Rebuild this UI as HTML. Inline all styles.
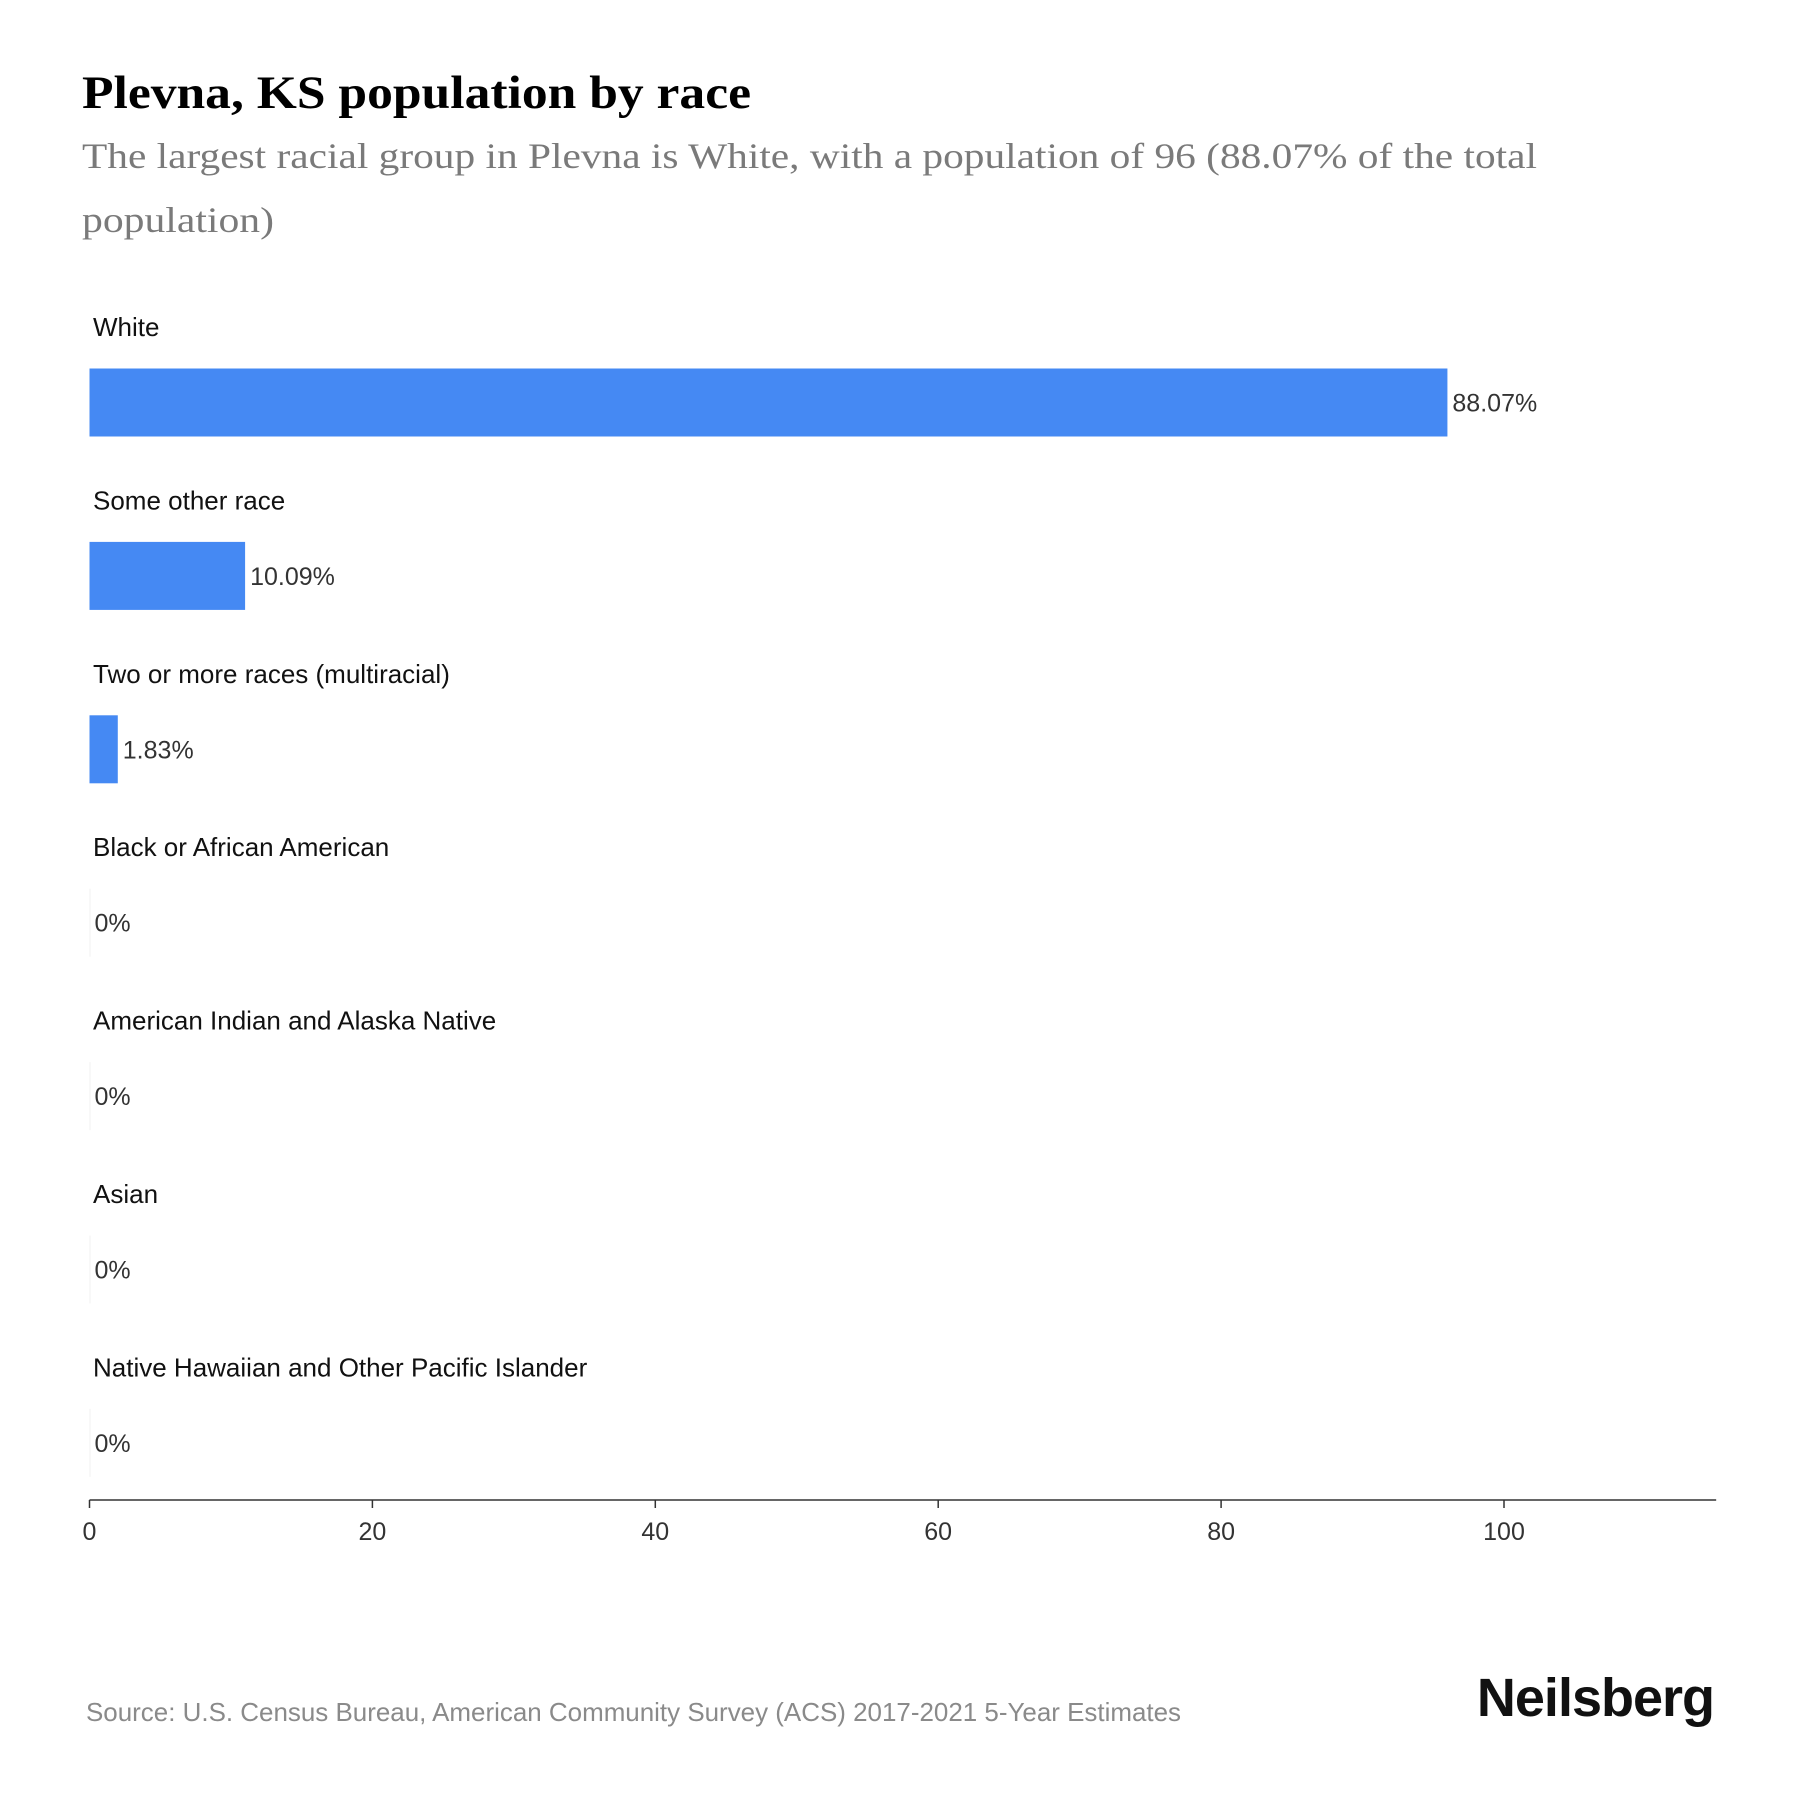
<!DOCTYPE html>
<html><head><meta charset="utf-8">
<style>
html,body{margin:0;padding:0;background:#fff;width:1800px;height:1800px;overflow:hidden}
svg{display:block}
</style></head>
<body>
<svg id="chart" width="1800" height="1800" viewBox="0 0 1800 1800" xmlns="http://www.w3.org/2000/svg">
  <text x="82" y="108" textLength="669" lengthAdjust="spacingAndGlyphs" font-family="'Liberation Serif', serif" font-weight="bold" font-size="47" fill="#000">Plevna, KS population by race</text>
  <text font-family="'Liberation Serif', serif" font-size="36" fill="#7a7a7a">
    <tspan x="82" y="168" textLength="1455" lengthAdjust="spacingAndGlyphs">The largest racial group in Plevna is White, with a population of 96 (88.07% of the total</tspan>
    <tspan x="82" y="232" textLength="192" lengthAdjust="spacingAndGlyphs">population)</tspan>
  </text>
  <g id="bars"></g>
  <g id="axis"></g>
  <text x="86" y="1721" textLength="1095" lengthAdjust="spacingAndGlyphs" font-family="'Liberation Sans', sans-serif" font-size="26" fill="#8a8a8a">Source: U.S. Census Bureau, American Community Survey (ACS) 2017-2021 5-Year Estimates</text>
  <text x="1714" y="1716" text-anchor="end" font-family="'Liberation Sans', sans-serif" font-weight="bold" font-size="54" fill="#111" letter-spacing="-1">Neilsberg</text>
</svg>
<script>
const categories = ["White","Some other race","Two or more races (multiracial)","Black or African American","American Indian and Alaska Native","Asian","Native Hawaiian and Other Pacific Islander"];
const populations = [96, 11, 2, 0, 0, 0, 0];
const percentLabels = ["88.07%","10.09%","1.83%","0%","0%","0%","0%"];
const tickValues = [0, 20, 40, 60, 80, 100];

const NS = "http://www.w3.org/2000/svg";
const x0 = 89.5, x100 = 1504, axisMax = 115;
const xScale = v => x0 + (x100 - x0) * v / 100;
const groupTop = 327, groupStep = 173.4;
const bars = document.getElementById("bars");
const axis = document.getElementById("axis");
function mk(tag, attrs, parent){const e=document.createElementNS(NS,tag);for(const k in attrs)e.setAttribute(k,attrs[k]);parent.appendChild(e);return e;}

categories.forEach((c,i)=>{
  const cy = groupTop + i*groupStep;
  const lab = mk("text",{x:93,y:cy+9,"font-family":"'Liberation Sans', sans-serif","font-size":"26",fill:"#111"},bars);
  
  
  lab.textContent = c;
  const by = cy + 41.5, bh = 68;
  const w = Math.max(xScale(populations[i]) - x0, 0);
  const r = mk("rect",{x:x0,y:by,width:w>0?w:1,height:bh,fill:w>0?"#4589f3":"#f2f2f2"},bars);
  
  
  const v = mk("text",{x:x0+w+5,y:by+bh/2+9,"font-family":"'Liberation Sans', sans-serif","font-size":"25",fill:"#333"},bars);
  
  
  v.textContent = percentLabels[i];
});

const ay = 1500;
const line = mk("line",{x1:x0,x2:xScale(axisMax),y1:ay,y2:ay,stroke:"#333","stroke-width":"1.5"},axis);


tickValues.forEach(t=>{
  const x = xScale(t);
  const tk = mk("line",{x1:x,x2:x,y1:ay,y2:ay+8,stroke:"#333","stroke-width":"1.5"},axis);
  
  
  const tl = mk("text",{x:x,y:ay+40,"text-anchor":"middle","font-family":"'Liberation Sans', sans-serif","font-size":"25",fill:"#333"},axis);
  
  
  tl.textContent = t;
});
</script>
</body></html>
